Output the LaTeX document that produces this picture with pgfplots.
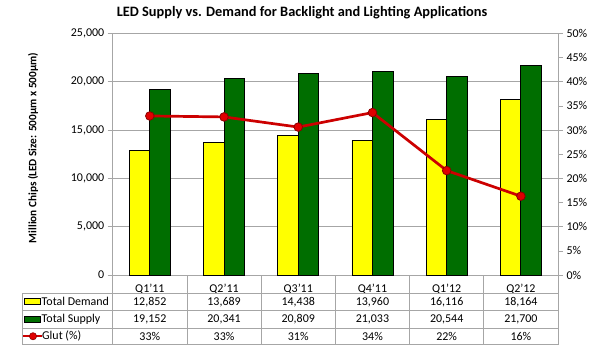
\documentclass[border=0pt]{standalone}
\usepackage{pgfplots}
\pgfplotsset{compat=1.18}
\usepackage{fontspec}
\setmainfont{Carlito}
\definecolor{barY}{HTML}{FFFF00}
\definecolor{barG}{HTML}{006E00}
\definecolor{glut}{HTML}{CC0000}
\definecolor{mk}{HTML}{E00000}
\definecolor{gridc}{HTML}{A6A6A6}
\begin{document}
\begin{tikzpicture}[x=1bp,y=1bp]
\path[use as bounding box] (0,0) rectangle (600,354);
\begin{axis}[at={(112.7bp,79bp)}, anchor=south west, scale only axis,
  width=445.3bp, height=241.7bp,
  xmin=-0.5, xmax=5.5, ymin=0, ymax=25000,
  axis x line*=bottom, axis y line*=left,
  xtick={0,...,5}, xticklabels={Q1'11,Q2'11,Q3'11,Q4'11,Q1'12,Q2'12},
  x tick style={draw=none},
  xticklabel style={font=\fontsize{12}{14}\selectfont, yshift=-1bp},
  ytick={0,5000,...,25000}, scaled y ticks=false,
  yticklabel style={font=\fontsize{12}{14}\selectfont},
  /pgf/number format/.cd, 1000 sep={,}, assume math mode=true, /pgfplots/.cd,
  ymajorgrids, grid style={gridc, line width=0.6bp},
  axis line style={gridc, line width=0.6bp},
  y tick style={gridc, line width=0.6bp}, tick align=outside, major tick length=5bp,
  clip=false]
\addplot[ybar, bar width=20.5bp, bar shift=-10.25bp, fill=barY, draw=black, line width=0.9bp]
  coordinates {(0,12852) (1,13689) (2,14438) (3,13960) (4,16116) (5,18164)};
\addplot[ybar, bar width=20.5bp, bar shift=10.25bp, fill=barG, draw=black, line width=0.9bp]
  coordinates {(0,19152) (1,20341) (2,20809) (3,21033) (4,20544) (5,21700)};
\end{axis}
\begin{axis}[at={(112.7bp,79bp)}, anchor=south west, scale only axis,
  width=445.3bp, height=241.7bp,
  xmin=-0.5, xmax=5.5, ymin=0, ymax=50,
  axis x line=none, axis y line*=right,
  ytick={0,5,...,50},
  yticklabel={\pgfmathprintnumber{\tick}\%},
  yticklabel style={font=\fontsize{12}{14}\selectfont},
  /pgf/number format/.cd, assume math mode=true, /pgfplots/.cd,
  axis line style={gridc, line width=0.6bp},
  y tick style={gridc, line width=0.6bp}, tick align=outside, major tick length=5bp,
  clip=false]
\addplot[glut, line width=2.7bp, mark=*, mark size=4.3bp,
  mark options={fill=mk, draw=black!45!red, line width=0.8bp}]
  coordinates {(0,32.9) (1,32.7) (2,30.6) (3,33.6) (4,21.6) (5,16.3)};
\end{axis}
% title and y label
\node[font=\fontsize{14.4}{16}\selectfont\bfseries] at (302,341) {LED Supply vs. Demand for Backlight and Lighting Applications};
\node[font=\fontsize{11.3}{13}\selectfont\bfseries, rotate=90] at (33,206) {Million Chips (LED Size: 500µm x 500µm)};
% data table
\begin{scope}[gridc, line width=0.6bp]
\foreach \yy in {61,43.5,26,9.5} \draw (22,\yy) -- (558,\yy);
\draw (22,61) -- (22,9.5);
\foreach \k in {0,...,6} \draw ({112.7+74.217*\k},79) -- ({112.7+74.217*\k},9.5);
\end{scope}
\begin{scope}[font=\fontsize{12}{14}\selectfont]
\draw[black, line width=0.7bp, fill=barY] (24.5,49.5) rectangle (40.5,55.5);
\node[anchor=west, inner sep=0] at (41.5,52.25) {Total Demand};
\draw[black, line width=0.7bp, fill=barG] (24.5,32) rectangle (40.5,38);
\node[anchor=west, inner sep=0] at (41.5,34.75) {Total Supply};
\draw[glut, line width=2bp] (23,17.75) -- (42,17.75);
\fill[mk, draw=black!45!red, line width=0.6bp] (33,17.75) circle (3.6bp);
\node[anchor=west, inner sep=0] at (42,17.75) {Glut (\%)};
\node at ({112.7+74.217*0.5},52.25) {12,852};
\node at ({112.7+74.217*1.5},52.25) {13,689};
\node at ({112.7+74.217*2.5},52.25) {14,438};
\node at ({112.7+74.217*3.5},52.25) {13,960};
\node at ({112.7+74.217*4.5},52.25) {16,116};
\node at ({112.7+74.217*5.5},52.25) {18,164};
\node at ({112.7+74.217*0.5},34.75) {19,152};
\node at ({112.7+74.217*1.5},34.75) {20,341};
\node at ({112.7+74.217*2.5},34.75) {20,809};
\node at ({112.7+74.217*3.5},34.75) {21,033};
\node at ({112.7+74.217*4.5},34.75) {20,544};
\node at ({112.7+74.217*5.5},34.75) {21,700};
\node at ({112.7+74.217*0.5},17.75) {33\%};
\node at ({112.7+74.217*1.5},17.75) {33\%};
\node at ({112.7+74.217*2.5},17.75) {31\%};
\node at ({112.7+74.217*3.5},17.75) {34\%};
\node at ({112.7+74.217*4.5},17.75) {22\%};
\node at ({112.7+74.217*5.5},17.75) {16\%};
\end{scope}
\end{tikzpicture}
\end{document}
